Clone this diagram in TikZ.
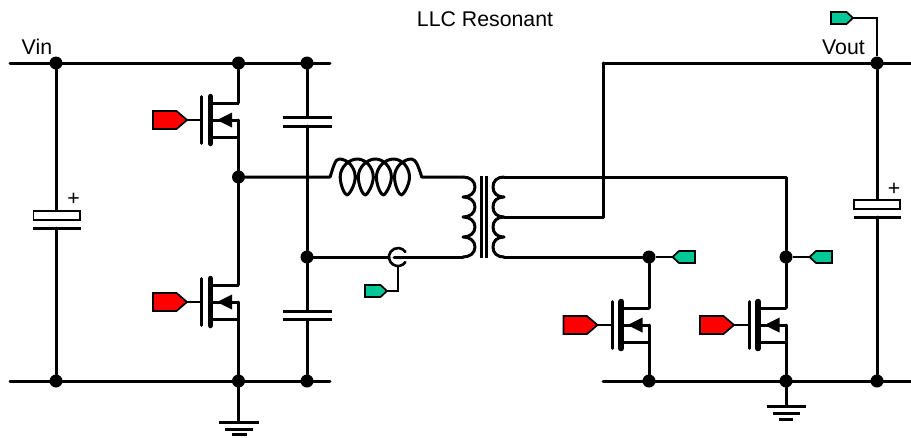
\documentclass[tikz,border=0pt]{standalone}
\usepackage{fontspec}
\setmainfont{Liberation Sans}
\tikzset{
  wire/.style={line width=3pt,line cap=round,line join=round},
  thinwire/.style={line width=2.1pt,line join=miter},
  plate/.style={line width=3pt,line cap=round},
  dot/.style={circle,fill=black,inner sep=0pt,minimum size=13pt},
  lbl/.style={inner sep=0pt,font=\fontsize{21.3}{24}\selectfont},
  tagout/.style={line width=1.7pt,line join=miter,draw=black}
}
\definecolor{tagred}{RGB}{255,0,0}
\definecolor{taggreen}{RGB}{0,200,150}
% red drive tag: #1 name of tip, #2 x of tip, #3 y
\newcommand{\redtag}[3]{%
  \fill[tagred,tagout] (#2-34,#3-9) -- (#2-10.5,#3-9) -- (#2,#3) -- (#2-10.5,#3+9) -- (#2-34,#3+9) -- cycle;
  \coordinate (#1) at (#2,#3);}
% green tag pointing right
\newcommand{\greentagR}[3]{%
  \fill[taggreen,tagout] (#2-22,#3-6) -- (#2-6.5,#3-6) -- (#2,#3) -- (#2-6.5,#3+6) -- (#2-22,#3+6) -- cycle;
  \coordinate (#1) at (#2,#3);}
% green tag pointing left
\newcommand{\greentagL}[3]{%
  \fill[taggreen,tagout] (#2+22.5,#3-6) -- (#2+6.5,#3-6) -- (#2,#3) -- (#2+6.5,#3+6) -- (#2+22.5,#3+6) -- cycle;
  \coordinate (#1) at (#2,#3);}
% MOSFET: #1 prefix, #2 x of drain-source line, #3 gate y
\newcommand{\fet}[3]{%
  \coordinate (#1g) at (#2-36.8,#3);
  \coordinate (#1d) at (#2,#3-17);
  \coordinate (#1m) at (#2,#3);
  \coordinate (#1s) at (#2,#3+17.5);
  \draw[plate,line width=2.6pt] (#2-36.8,#3-23.5) -- (#2-36.8,#3+23.5);
  \draw[plate,line width=5.5pt] (#2-27.9,#3-23.5) -- (#2-27.9,#3+23.5);
  \draw[wire,line cap=butt] (#2-27.9,#3-17) -- (#1d);
  \draw[wire,line cap=butt] (#2-27.9,#3+17.5) -- (#1s);
  \draw[wire,line cap=butt] (#2-27.9,#3) -- (#1m);
  \fill (#2-21.5,#3) -- (#2-6.5,#3-7.5) -- (#2-6.5,#3+7.5) -- cycle;
  \draw[wire] (#1m) -- (#1s);}
\begin{document}
\begin{tikzpicture}[x=1pt,y=-1pt]
\useasboundingbox (0,0) rectangle (911,437);
% anchors
\coordinate (tl) at (10,63); \coordinate (tm) at (330,63);
\coordinate (bl) at (10,381); \coordinate (bm) at (330,381);
\coordinate (tr0) at (603,63); \coordinate (tr1) at (911,63);
\coordinate (br0) at (603,381); \coordinate (br1) at (911,381);
\node[dot] (a1) at (56,63) {}; \node[dot] (a2) at (56,381) {};
\node[dot] (b1) at (238.5,63) {}; \node[dot] (b2) at (238.5,177) {}; \node[dot] (b3) at (238.5,381) {};
\node[dot] (c1) at (307,63) {}; \node[dot] (c2) at (307,257) {}; \node[dot] (c3) at (307,381) {};
\node[dot] (d1) at (649,257) {}; \node[dot] (d2) at (649,381) {};
\node[dot] (e1) at (786,257) {}; \node[dot] (e2) at (786,381) {};
\node[dot] (f1) at (877,63) {}; \node[dot] (f2) at (877,381) {};
% rails
\draw[wire] (tl) -- (tm); \draw[wire] (bl) -- (bm);
\draw[wire] (tr0) -- (tr1); \draw[wire] (br0) -- (br1);
% texts
\node[lbl,anchor=base] (title) at (485,26) {LLC Resonant};
\node[lbl,anchor=base west] (vin) at (21.5,54) {Vin};
\node[lbl,anchor=base west] (vout) at (822,54) {Vout};
% input electrolytic
\coordinate (ca) at (56,210.7); \coordinate (cb) at (56,228);
\draw[wire] (a1) -- (ca); \draw[wire] (cb) -- (a2);
\draw[fill=white,line width=1.8pt] (33.5,211) rectangle (80,220);
\draw[plate,line cap=butt] (33,228) -- (80.5,228);
\node[lbl] (pl1) at (73.5,199.5) {+};
% half bridge FETs
\fet{q1}{238.5}{120}
\fet{q2}{238.5}{302}
\redtag{r1}{187}{120}
\redtag{r2}{187}{302}
\draw[wire,line width=2.2pt] (r1) -- (q1g);
\draw[wire,line width=2.2pt] (r2) -- (q2g);
\draw[wire] (b1) -- (q1d);
\draw[wire] (q1s) -- (b2) -- (q2d);
\draw[wire] (q2s) -- (b3);
% resonant caps
\coordinate (k1) at (307,117); \coordinate (k2) at (307,126);
\coordinate (k3) at (307,311); \coordinate (k4) at (307,319.5);
\draw[wire] (c1) -- (k1); \draw[wire] (k2) -- (c2) -- (k3); \draw[wire] (k4) -- (c3);
\draw[plate,line cap=butt] (283,117) -- (331.5,117);
\draw[plate,line cap=butt] (283,126) -- (331.5,126);
\draw[plate,line cap=butt] (283,311) -- (331.5,311);
\draw[plate,line cap=butt] (283,319.5) -- (331.5,319.5);
% resonant inductor
\coordinate (ls) at (330,177); \coordinate (le) at (421.7,177);
\draw[wire] (b2) -- (ls)
  .. controls (333.5,167) and (335,159) .. (339.2,159)
  \foreach \xk in {339.2,357.3,375.4,393.5} {
    .. controls (\xk+8,159) and (\xk+16,167) .. (\xk+16,177)
    .. controls (\xk+16,185) and (\xk+10,195) .. (\xk+7.8,195)
    .. controls (\xk+5.5,195) and (\xk+1,185) .. (\xk+1,177)
    .. controls (\xk+1,167) and (\xk+10,159) .. (\xk+18.1,159)
  }
  .. controls (416,159) and (419,168) .. (le) -- (463,177);
% current sense
\coordinate (cs) at (398,257);
\draw[wire] (c2) -- (389,257);
\draw[wire,line width=2.6pt] (cs) ++(35:9) arc[start angle=35,end angle=325,radius=9];
\coordinate (primb) at (463,257);
\draw[wire] (394,257) -- (primb);
\coordinate (cswb) at (398,266);
\coordinate (cswc) at (398,291);
\greentagR{g1}{387}{291}
\draw[thinwire] (cswb) -- (cswc) -- (g1);
% transformer
\draw[wire] (463,177)
  .. controls (470,177) and (475,181) .. (475,187) .. controls (475,193) and (470,197) .. (463,197)
  .. controls (470,197) and (475,201) .. (475,207) .. controls (475,213) and (470,217) .. (463,217)
  .. controls (470,217) and (475,221) .. (475,227) .. controls (475,233) and (470,237) .. (463,237)
  .. controls (470,237) and (475,241) .. (475,247) .. controls (475,253) and (470,257) .. (primb);
\draw[line width=2.6pt] (481.3,176) -- (481.3,258);
\draw[line width=2.6pt] (486.3,176) -- (486.3,258);
\coordinate (st) at (504,177); \coordinate (sm) at (504,217); \coordinate (sb) at (504,257);
\draw[wire] (st)
  .. controls (497,177) and (493,181) .. (493,187) .. controls (493,193) and (497,197) .. (504,197)
  .. controls (497,197) and (493,201) .. (493,207) .. controls (493,213) and (497,217) .. (sm)
  .. controls (497,217) and (493,221) .. (493,227) .. controls (493,233) and (497,237) .. (504,237)
  .. controls (497,237) and (493,241) .. (493,247) .. controls (493,253) and (497,257) .. (sb);
\draw[wire] (st) -- (786,177) -- (e1);
\draw[wire] (sm) -- (603,217) -- (tr0);
\draw[wire] (sb) -- (d1);
% synchronous rectifier FETs
\fet{q3}{649}{325}
\fet{q4}{786}{325}
\redtag{r3}{597.5}{325}
\redtag{r4}{734}{325}
\draw[wire,line width=2.2pt] (r3) -- (q3g);
\draw[wire,line width=2.2pt] (r4) -- (q4g);
\draw[wire] (d1) -- (q3d); \draw[wire] (q3s) -- (d2);
\draw[wire] (e1) -- (q4d); \draw[wire] (q4s) -- (e2);
\greentagL{g2}{672.5}{257}
\greentagL{g3}{809.5}{257}
\draw[thinwire] (d1) -- (g2);
\draw[thinwire] (e1) -- (g3);
% output cap
\coordinate (oa) at (877,200); \coordinate (ob) at (877,217);
\draw[wire] (f1) -- (oa); \draw[wire] (ob) -- (f2);
\draw[fill=white,line width=1.8pt] (854,200) rectangle (900,208.7);
\draw[plate,line cap=butt] (853.5,217) -- (901,217);
\node[lbl] (pl2) at (894,189) {+};
% Vout tag
\greentagR{g4}{853}{18}
\coordinate (vc) at (877,18);
\draw[thinwire] (g4) -- (vc) -- (f1);
% grounds
\coordinate (g5) at (238.5,422.7);
\draw[wire] (b3) -- (g5);
\draw[plate,line cap=butt] (219,422.7) -- (259,422.7);
\draw[plate,line cap=butt] (225,429) -- (253,429);
\draw[plate,line cap=butt] (231.5,434.7) -- (246.5,434.7);
\coordinate (g6) at (786,406.7);
\draw[wire] (e2) -- (g6);
\draw[plate,line cap=butt] (766.5,406.7) -- (806,406.7);
\draw[plate,line cap=butt] (772.5,413.3) -- (800,413.3);
\draw[plate,line cap=butt] (779,419.3) -- (793,419.3);
\end{tikzpicture}
\end{document}
